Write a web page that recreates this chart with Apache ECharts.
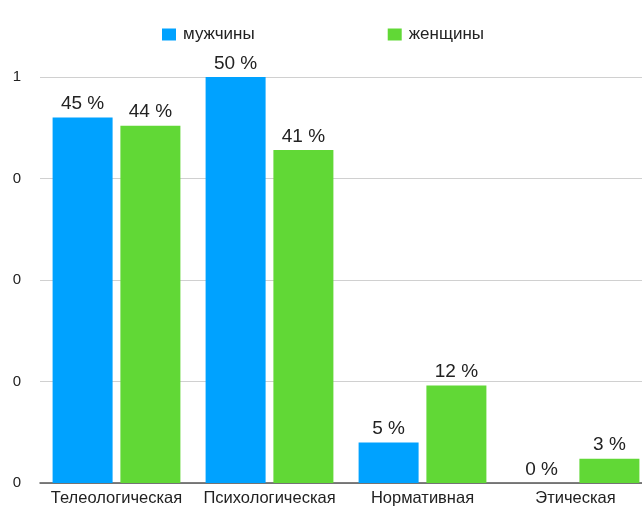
<!DOCTYPE html>
<html>
<head>
<meta charset="utf-8">
<script src="https://cdn.jsdelivr.net/npm/echarts@6/dist/echarts.min.js"></script>
<style>
  html, body { margin: 0; padding: 0; background: #fff; overflow: hidden; }
  #chart { width: 660px; height: 507px; }
</style>
</head>
<body>
<div id="chart"></div>
<script>
// Categories and shares (fraction of respondents)
const categories = ['Телеологическая', 'Психологическая', 'Нормативная', 'Этическая'];
const men = [0.45, 0.50, 0.05, 0.00];
const women = [0.44, 0.41, 0.12, 0.03];
const seriesNames = ['мужчины', 'женщины'];
// Tick labels for 0, 0.125, 0.25, 0.375, 0.5 (rounded to whole numbers)
const yTickLabels = ['0', '0', '0', '0', '1'];

const chart = echarts.init(document.getElementById('chart'));
const font = 'Helvetica, "Liberation Sans", Arial, sans-serif';

const pct = p => Math.round(p.value * 100) + ' %';

chart.setOption({
  animation: false,
  textStyle: { fontFamily: font },
  legend: {
    top: 21,
    left: 157,
    itemWidth: 14,
    itemHeight: 12,
    itemGap: 133,
    icon: 'rect',
    textStyle: { fontSize: 17, color: '#222', fontFamily: font, padding: [0, 0, 0, 2] },
    data: seriesNames
  },
  grid: { left: 40, top: 77, width: 612, height: 406, containLabel: false },
  xAxis: {
    type: 'category',
    data: categories,
    axisLine: { lineStyle: { color: '#555', width: 1.5 } },
    axisTick: { show: false },
    axisLabel: { interval: 0, fontSize: 16.5, color: '#222', margin: 7, fontFamily: font }
  },
  yAxis: {
    type: 'value',
    min: 0,
    max: 0.5,
    interval: 0.125,
    axisLine: { show: false },
    axisTick: { show: false },
    splitLine: { lineStyle: { color: '#d0d0d0', width: 1 } },
    axisLabel: {
      fontSize: 15,
      color: '#222',
      margin: 19,
      fontFamily: font,
      formatter: (v) => yTickLabels[Math.round(v / 0.125)]
    }
  },
  series: [
    {
      name: seriesNames[0],
      type: 'bar',
      data: men,
      barWidth: 60,
      barGap: '13%',
      itemStyle: { color: '#00A2FF' },
      label: { show: true, position: 'top', distance: 4, fontSize: 19, color: '#222', fontFamily: font, formatter: pct }
    },
    {
      name: seriesNames[1],
      type: 'bar',
      data: women,
      barWidth: 60,
      barGap: '13%',
      itemStyle: { color: '#61D836' },
      label: { show: true, position: 'top', distance: 4, fontSize: 19, color: '#222', fontFamily: font, formatter: pct }
    }
  ]
});
</script>
</body>
</html>
